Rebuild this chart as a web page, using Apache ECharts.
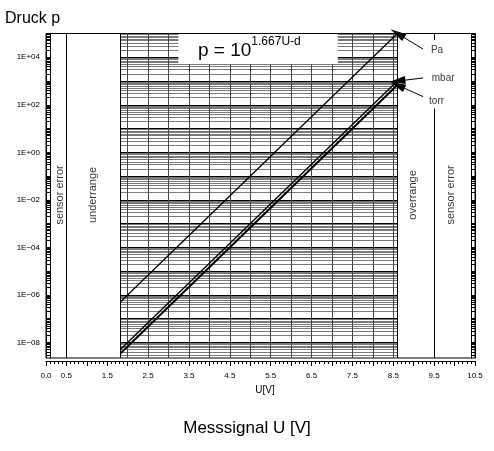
<!DOCTYPE html>
<html>
<head>
<meta charset="utf-8">
<script src="https://cdn.jsdelivr.net/npm/echarts@6/dist/echarts.min.js"></script>
<style>
  html, body { margin: 0; padding: 0; background: #fff; }
  #chart { width: 494px; height: 451px; }
</style>
</head>
<body>
<div id="chart"></div>
<script>
// signal range in which the gauge reports a pressure
const uStart = 1.82;
const uEnd = 8.6;
const unitNames = ["Pa", "mbar", "torr"];
const pAtStart = [5e-7, 5e-9, 3.4e-9];
const pAtEnd = [1e5, 1e3, 6.8e2];

const regionEdges = [0.5, 1.82, 8.6, 9.5];
const regionNames = ["sensor error", "underrange", "overrange", "sensor error"];
const regionCenters = [0.34, 1.15, 8.97, 9.9];
const regionLabelP = 1.6e-2;
// the 9.5 line is left open behind the unit labels
const edgeGapP = [73, 5.3e4];

const xLabelValues = [0, 0.5, 1.5, 2.5, 3.5, 4.5, 5.5, 6.5, 7.5, 8.5, 9.5, 10.5];
const yLabelExps = [4, 2, 0, -2, -4, -6, -8];

// unit labels and arrows on the right
const labelAt = [[9.57, 2.0e4], [9.72, 1.34e3], [9.56, 1.35e2]];
const arrowTail = [[9.23, 2.2e4], [9.23, 1.34e3], [9.23, 2.2e2]];

// white box for the formula at the top of the grid
const boxU = [3.24, 7.14];
const boxP = 5e3;

const yMin = 2.2e-9;
const yMax = 1e5;

const FONT = "Liberation Sans, Arial, sans-serif";

// log grid levels 1..9 x 10^e
const levels = [];
for (let e = -9; e <= 5; e++) {
  for (let m = 1; m <= 9; m++) {
    const v = m * Math.pow(10, e);
    if (v >= yMin && v <= yMax * 1.0001) levels.push(v);
  }
}
const yLabelValues = yLabelExps.map((e) => Math.pow(10, e));

const minorSegs = [];
const majorSegs = [];
levels.forEach((v) => {
  const isMajor = Math.abs(Math.log10(v) - Math.round(Math.log10(v))) < 1e-9;
  const target = isMajor ? majorSegs : minorSegs;
  if (v > boxP * 1.0001) {
    target.push([{ coord: [uStart, v] }, { coord: [boxU[0], v] }]);
    target.push([{ coord: [boxU[1], v] }, { coord: [uEnd, v] }]);
  } else {
    target.push([{ coord: [uStart, v] }, { coord: [uEnd, v] }]);
  }
});

const vertSegs = [];
for (let u = 2; u <= 8.5 + 1e-9; u += 0.5) {
  const top = u > boxU[0] && u < boxU[1] ? boxP : yMax;
  vertSegs.push([{ coord: [u, yMin] }, { coord: [u, top] }]);
}

const edgeSegs = [];
regionEdges.forEach((u, i) => {
  if (i === regionEdges.length - 1) {
    edgeSegs.push([{ coord: [u, yMin] }, { coord: [u, edgeGapP[0]] }]);
    edgeSegs.push([{ coord: [u, edgeGapP[1]] }, { coord: [u, yMax] }]);
  } else {
    edgeSegs.push([{ coord: [u, yMin] }, { coord: [u, yMax] }]);
  }
});

const arrowSegs = unitNames.map((n, i) => [
  { coord: arrowTail[i] },
  { coord: [uEnd, pAtEnd[i]] },
]);

const markerSeries = (name, segs, color, width, z, extra) => ({
  name,
  type: "line",
  data: [],
  silent: true,
  z,
  markLine: Object.assign(
    {
      silent: true,
      symbol: "none",
      z,
      label: { show: false },
      lineStyle: { color, width, type: "solid" },
      emphasis: { disabled: true },
      animation: false,
      data: segs,
    },
    extra || {}
  ),
});

const fmtExp = (v) => {
  const e = Math.round(Math.log10(v));
  if (!yLabelExps.includes(e)) return "";
  const a = String(Math.abs(e)).padStart(2, "0");
  return "1E" + (e >= 0 ? "+" : "\u2212") + a;
};

const yAxisBase = {
  type: "log",
  logBase: 10,
  min: yMin,
  max: yMax,
  splitLine: { show: false },
  minorSplitLine: { show: false },
};

const chart = echarts.init(document.getElementById("chart"));

const option = {
  animation: false,
  textStyle: { fontFamily: FONT },
  title: [
    {
      text: "Druck p",
      left: 0,
      top: 6,
      textStyle: { fontSize: 16, fontWeight: "normal", color: "#000", fontFamily: FONT },
    },
    {
      text: "Messsignal U [V]",
      left: "center",
      top: 415,
      textStyle: { fontSize: 17, fontWeight: "normal", color: "#000", fontFamily: FONT },
    },
    {
      text: "{b|p = 10}{s|1.667U-d}",
      left: 193,
      top: 31,
      textStyle: {
        fontFamily: FONT,
        fontWeight: "normal",
        rich: {
          b: { fontSize: 19, fontWeight: "normal", color: "#000", lineHeight: 24, verticalAlign: "bottom", fontFamily: FONT },
          s: { fontSize: 12, fontWeight: "normal", color: "#000", lineHeight: 12, verticalAlign: "top", fontFamily: FONT },
        },
      },
    },
  ],
  grid: {
    left: 46,
    right: 19,
    top: 33.5,
    bottom: 93,
    show: true,
    borderColor: "#000",
    borderWidth: 1,
    backgroundColor: "transparent",
  },
  xAxis: {
    type: "value",
    min: 0,
    max: 10.5,
    interval: 0.5,
    offset: 3,
    axisLine: { show: true, lineStyle: { color: "#000", width: 1 } },
    axisTick: { show: true, length: 5, lineStyle: { color: "#000" } },
    minorTick: { show: true, splitNumber: 5, length: 3, lineStyle: { color: "#000" } },
    splitLine: { show: false },
    axisLabel: {
      fontSize: 8,
      color: "#000",
      margin: 11,
      fontFamily: FONT,
      formatter: (v) => (xLabelValues.some((x) => Math.abs(x - v) < 1e-6) ? v.toFixed(1) : ""),
    },
    name: "U[V]",
    nameLocation: "middle",
    nameGap: 19,
    nameTextStyle: { fontSize: 10, color: "#000", padding: [0, 0, 0, 9], fontFamily: FONT },
  },
  yAxis: [
    Object.assign({}, yAxisBase, {
      position: "left",
      axisLine: { show: true, lineStyle: { color: "#000" } },
      axisTick: { show: true, inside: true, length: 4, customValues: levels, lineStyle: { color: "#000" } },
      axisLabel: {
        customValues: yLabelValues,
        formatter: fmtExp,
        fontSize: 8,
        color: "#000",
        margin: 6,
        fontFamily: FONT,
      },
    }),
    Object.assign({}, yAxisBase, {
      position: "right",
      axisLine: { show: true, lineStyle: { color: "#000" } },
      axisTick: { show: true, inside: true, length: 4, customValues: levels, lineStyle: { color: "#000" } },
      axisLabel: { show: false },
    }),
    Object.assign({}, yAxisBase, {
      position: "left",
      offset: -4,
      axisLine: { show: true, lineStyle: { color: "#000" } },
      axisTick: { show: false },
      axisLabel: { show: false },
    }),
    Object.assign({}, yAxisBase, {
      position: "right",
      offset: -4,
      axisLine: { show: true, lineStyle: { color: "#000" } },
      axisTick: { show: false },
      axisLabel: { show: false },
    }),
  ],
  series: [
    markerSeries("minor", minorSegs, "#7a7a7a", 1, 1),
    markerSeries("major", majorSegs, "#000", 1, 1),
    markerSeries("vertical", vertSegs, "#444", 1, 1),
    markerSeries("edges", edgeSegs, "#000", 1, 1),
    ...unitNames.map((n, i) => ({
      name: n,
      type: "line",
      z: 10,
      data: [[uStart, pAtStart[i]], [uEnd, pAtEnd[i]]],
      symbol: "none",
      silent: true,
      lineStyle: { color: "#000", width: [1.3, 1.4, 2][i] },
    })),
    {
      name: "regions",
      type: "scatter",
      symbolSize: 0,
      silent: true,
      z: 10,
      data: regionNames.map((n, i) => ({ name: n, value: [regionCenters[i], regionLabelP] })),
      label: {
        show: true,
        position: "inside",
        rotate: 90,
        formatter: "{b}",
        fontSize: 11,
        color: "#000",
        fontFamily: FONT,
      },
    },
    {
      name: "units",
      type: "scatter",
      symbolSize: 0,
      silent: true,
      z: 11,
      data: unitNames.map((n, i) => ({ name: n, value: labelAt[i] })),
      label: {
        show: true,
        position: "inside",
        formatter: "{b}",
        fontSize: 10,
        color: "#000",
        backgroundColor: "#fff",
        padding: [2, 2],
        fontFamily: FONT,
      },
    },
    markerSeries("arrows", arrowSegs, "#000", 1, 12, {
      symbol: ["none", "triangle"],
      symbolSize: [8, 16],
      itemStyle: { color: "#000" },
    }),
  ],
};

chart.setOption(option);
</script>
</body>
</html>
